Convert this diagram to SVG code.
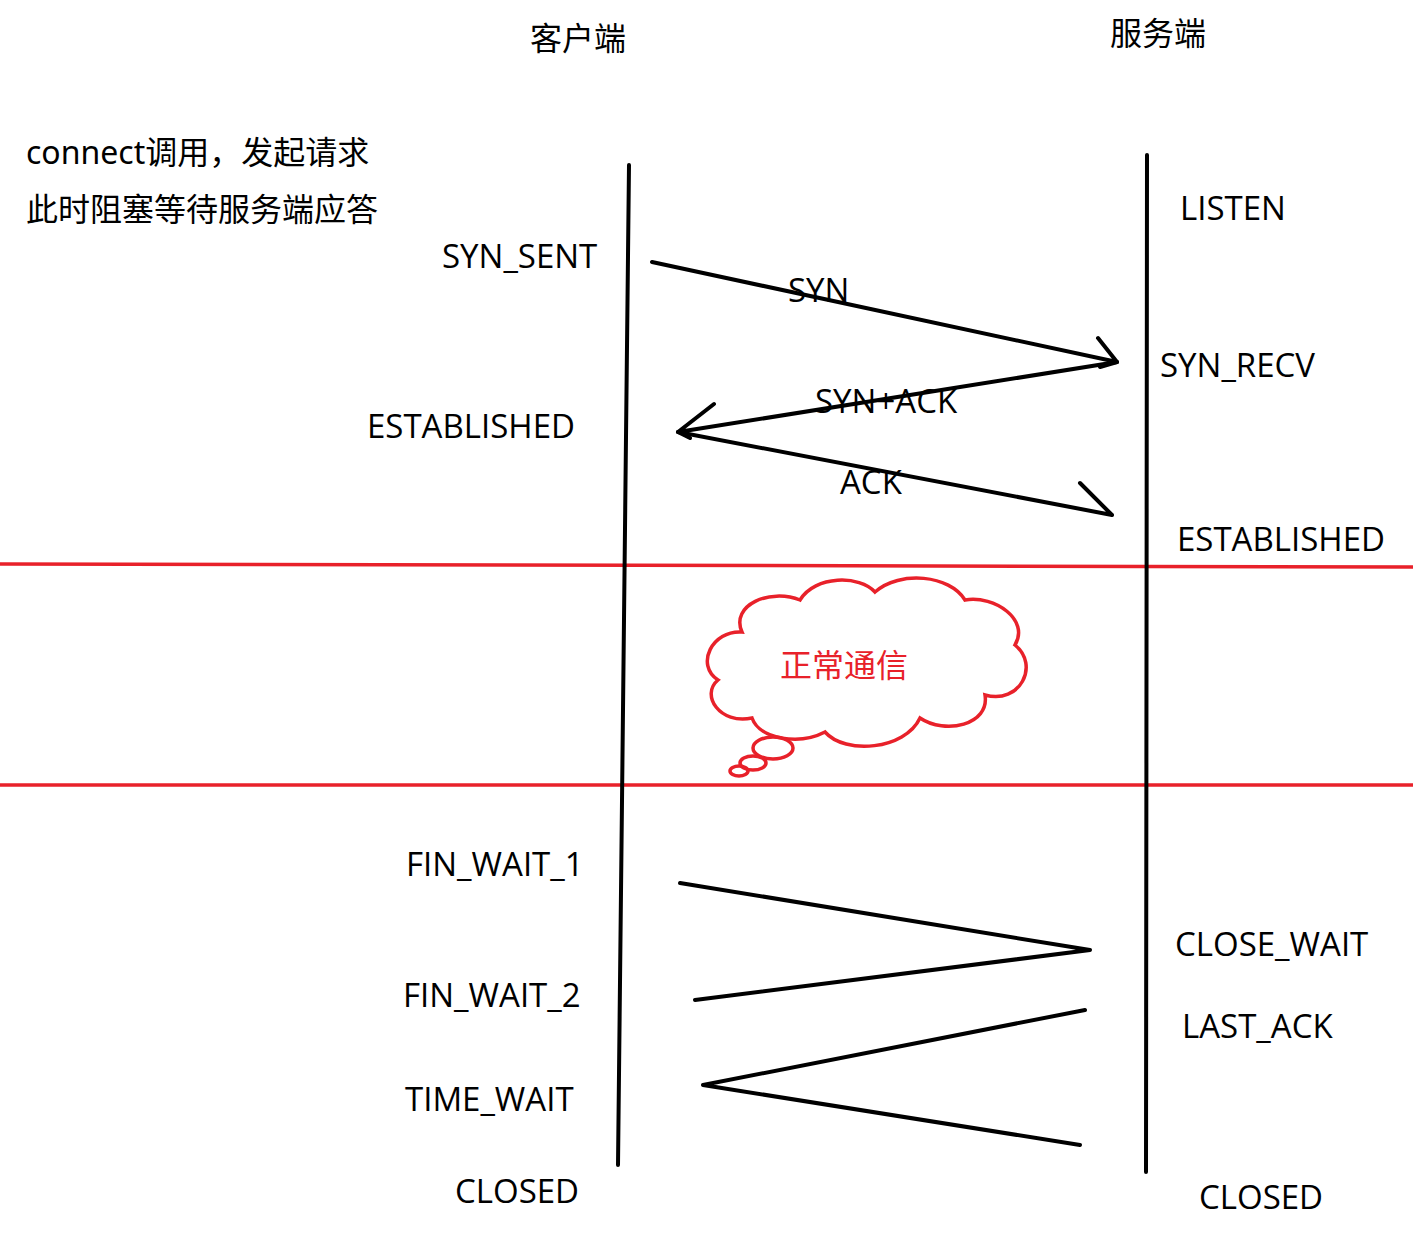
<svg xmlns="http://www.w3.org/2000/svg" width="1413" height="1240" viewBox="0 0 1413 1240">
<style>
text{font-family:"Open Sans","Noto Sans","Noto Sans CJK SC",sans-serif;font-size:33px;fill:#000}
.cn{font-family:"Noto Sans CJK SC",sans-serif;font-size:32px}
.k{stroke:#000;stroke-width:4;fill:none;stroke-linecap:round;stroke-linejoin:round}
.r{stroke:#e8212a;stroke-width:3.5;fill:none}
</style>
<rect width="1413" height="1240" fill="#fff"/>
<g id="titles">
<text class="cn" x="530" y="50">客户端</text>
<text class="cn" x="1110" y="45">服务端</text>
<text class="cn" x="26" y="164" style="font-family:'Noto Sans','Noto Sans CJK SC',sans-serif">connect调用，发起请求</text>
<text class="cn" x="26" y="221">此时阻塞等待服务端应答</text>
</g>
<g id="client-states">
<text x="442" y="268">SYN_SENT</text>
<text x="367" y="438">ESTABLISHED</text>
<text x="406" y="876">FIN_WAIT_1</text>
<text x="403" y="1007">FIN_WAIT_2</text>
<text x="405" y="1111">TIME_WAIT</text>
<text x="455" y="1203">CLOSED</text>
</g>
<g id="server-states">
<text x="1180" y="220">LISTEN</text>
<text x="1160" y="377">SYN_RECV</text>
<text x="1177" y="551">ESTABLISHED</text>
<text x="1175" y="956">CLOSE_WAIT</text>
<text x="1182" y="1038">LAST_ACK</text>
<text x="1199" y="1209">CLOSED</text>
</g>
<g id="separators">
<path class="r" d="M0 564 L1413 567"/>
<path class="r" d="M0 785 L1413 785"/>
</g>
<g id="cloud">
<path class="r" d="M742 632 C730 605 770 588 800 600 C815 575 860 575 875 592 C900 570 950 575 965 600 C995 595 1030 620 1015 645 C1040 665 1020 705 985 695 C990 725 945 735 920 718 C905 750 845 755 825 732 C800 745 760 740 752 718 C720 725 700 695 718 680 C695 665 712 630 742 632 Z"/>
<ellipse class="r" cx="773" cy="748" rx="20" ry="11"/>
<ellipse class="r" cx="753" cy="763" rx="13" ry="7"/>
<ellipse class="r" cx="739" cy="771" rx="9" ry="5"/>
<text class="cn" x="780" y="677" fill="#e8212a" style="fill:#e8212a">正常通信</text>
</g>
<g id="connectors">
<path class="k" d="M629 165 L618 1165"/>
<path class="k" d="M1147 155 L1146 1172"/>
<path class="k" d="M652 262 L1117 362 M1098 338 L1117 362 L1100 367"/>
<path class="k" d="M1117 362 L678 432 M714 404 L678 432 L690 438"/>
<path class="k" d="M678 432 L1112 515 M1080 483 L1112 515"/>
<path class="k" d="M680 883 L1090 950 L695 1000"/>
<path class="k" d="M1085 1010 L703 1085 L1080 1145"/>
</g>
<g id="labels">
<text x="788" y="302">SYN</text>
<text x="815" y="413">SYN+ACK</text>
<text x="840" y="494">ACK</text>
</g>
</svg>
